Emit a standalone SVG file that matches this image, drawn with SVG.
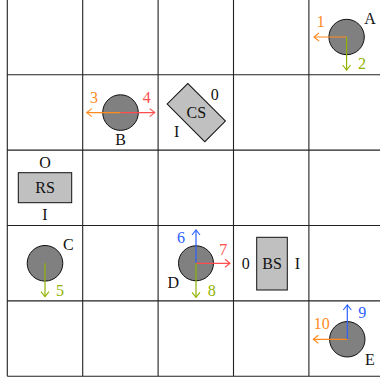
<svg xmlns="http://www.w3.org/2000/svg" width="380" height="380" viewBox="0 0 380 380">
<style>
.grid{stroke:#222;stroke-width:1.1;fill:none}
.ball{fill:#808080;stroke:#111;stroke-width:1}
.box{fill:#c0c0c0;stroke:#111;stroke-width:1}
.t,.n{font-family:"Liberation Serif","DejaVu Serif",serif;font-size:16px;text-anchor:middle;dominant-baseline:central}
.t{fill:#111}
.tor{fill:#ff8a1e}
.trd{fill:#ff4d4d}
.tgr{fill:#8fb300}
.tbl{fill:#2a60ff}
.a{stroke-width:1.2;fill:none}
.or{stroke:#ff8a1e}
.rd{stroke:#ff4d4d}
.gr{stroke:#8fb300}
.bl{stroke:#2a60ff}
</style>
<defs>
<marker id="hOr" viewBox="-6 -5 8 10" refX="0" refY="0" markerWidth="8" markerHeight="10" markerUnits="userSpaceOnUse" orient="auto"><path d="M-5,-4 Q-1,-0.8 0,0 Q-1,0.8 -5,4" fill="none" stroke="#ff8a1e" stroke-width="1.1"/></marker>
<marker id="hRd" viewBox="-6 -5 8 10" refX="0" refY="0" markerWidth="8" markerHeight="10" markerUnits="userSpaceOnUse" orient="auto"><path d="M-5,-4 Q-1,-0.8 0,0 Q-1,0.8 -5,4" fill="none" stroke="#ff4d4d" stroke-width="1.1"/></marker>
<marker id="hGr" viewBox="-6 -5 8 10" refX="0" refY="0" markerWidth="8" markerHeight="10" markerUnits="userSpaceOnUse" orient="auto"><path d="M-5,-4 Q-1,-0.8 0,0 Q-1,0.8 -5,4" fill="none" stroke="#8fb300" stroke-width="1.1"/></marker>
<marker id="hBl" viewBox="-6 -5 8 10" refX="0" refY="0" markerWidth="8" markerHeight="10" markerUnits="userSpaceOnUse" orient="auto"><path d="M-5,-4 Q-1,-0.8 0,0 Q-1,0.8 -5,4" fill="none" stroke="#2a60ff" stroke-width="1.1"/></marker>
</defs>
<rect width="380" height="380" fill="#fff"/>
<g id="grid" class="grid">
<path d="M7.3,-1V376.3M82.7,-1V376.3M158.1,-1V376.3M233.5,-1V376.3M308.9,-1V376.3M7.3,74.7H385M7.3,150.1H385M7.3,225.5H385M7.3,300.9H385M7.3,376.3H385"/>
</g>
<g id="A">
<circle class="ball" cx="346.6" cy="37" r="17.7"/>
<text class="t" x="370" y="18">A</text>
</g>
<g id="B">
<circle class="ball" cx="120.5" cy="112.6" r="17.8"/>
<text class="t" x="120.5" y="139">B</text>
</g>
<g id="CS">
<rect class="box" x="-26.6" y="-14.6" width="53.2" height="29.2" transform="translate(196.3,112.6) rotate(45)"/>
<text class="t" x="196.3" y="112.6">CS</text>
<text class="t" x="214.7" y="94">0</text>
<text class="t" x="176.7" y="131.5">I</text>
</g>
<g id="RS">
<rect class="box" x="18.3" y="172.7" width="53.4" height="30"/>
<text class="t" x="45" y="187.7">RS</text>
<text class="t" x="45" y="162.5">O</text>
<text class="t" x="45" y="214.5">I</text>
</g>
<g id="C">
<circle class="ball" cx="45" cy="263.3" r="17.8"/>
<text class="t" x="68.3" y="244.5">C</text>
</g>
<g id="D">
<circle class="ball" cx="196" cy="263.3" r="17.5"/>
<text class="t" x="173.3" y="282">D</text>
</g>
<g id="BS">
<rect class="box" x="256.7" y="237.3" width="30.6" height="52.7"/>
<text class="t" x="272" y="263.6">BS</text>
<text class="t" x="245.7" y="263.6">0</text>
<text class="t" x="297.3" y="263.6">I</text>
</g>
<g id="E">
<circle class="ball" cx="347.3" cy="339.3" r="17.7"/>
<text class="t" x="370" y="359">E</text>
</g>
<g id="connectors">
<line class="a or" x1="346.6" y1="37" x2="314" y2="37" marker-end="url(#hOr)"/>
<text class="n tor" x="320.7" y="21.5">1</text>
<line class="a gr" x1="346.6" y1="37" x2="346.6" y2="70" marker-end="url(#hGr)"/>
<text class="n tgr" x="362" y="63.5">2</text>
<line class="a or" x1="120.5" y1="112.6" x2="86.7" y2="112.6" marker-end="url(#hOr)"/>
<text class="n tor" x="94" y="97.3">3</text>
<line class="a rd" x1="120.5" y1="112.6" x2="154.7" y2="112.6" marker-end="url(#hRd)"/>
<text class="n trd" x="146.7" y="97.3">4</text>
<line class="a gr" x1="45" y1="263.3" x2="45" y2="296.7" marker-end="url(#hGr)"/>
<text class="n tgr" x="60" y="290">5</text>
<line class="a bl" x1="196" y1="263.3" x2="196" y2="230" marker-end="url(#hBl)"/>
<text class="n tbl" x="181" y="237.3">6</text>
<line class="a rd" x1="196" y1="263.3" x2="230" y2="263.3" marker-end="url(#hRd)"/>
<text class="n trd" x="223.3" y="249.5">7</text>
<line class="a gr" x1="196" y1="263.3" x2="196" y2="297.3" marker-end="url(#hGr)"/>
<text class="n tgr" x="211.7" y="290.5">8</text>
<line class="a bl" x1="347.3" y1="339.3" x2="347.3" y2="305" marker-end="url(#hBl)"/>
<text class="n tbl" x="362.3" y="312.5">9</text>
<line class="a or" x1="347.3" y1="339.3" x2="313.3" y2="339.3" marker-end="url(#hOr)"/>
<text class="n tor" x="321.7" y="323.3">10</text>
</g>
</svg>
